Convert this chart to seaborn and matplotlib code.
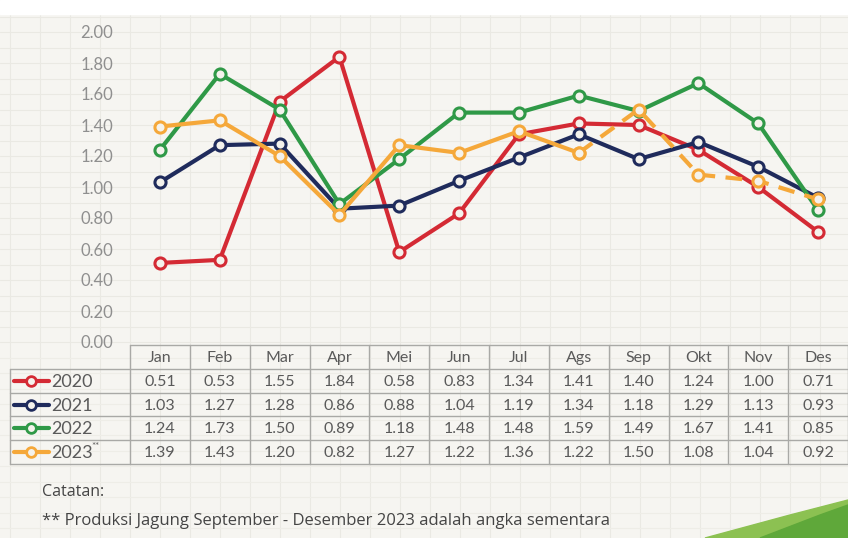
import matplotlib
matplotlib.use("Agg")
import matplotlib.pyplot as plt
import seaborn as sns
import pandas as pd
import numpy as np
from matplotlib.patches import Polygon, Rectangle

months = ["Jan", "Feb", "Mar", "Apr", "Mei", "Jun", "Jul", "Ags", "Sep", "Okt", "Nov", "Des"]
v2020 = [0.51, 0.53, 1.55, 1.84, 0.58, 0.83, 1.34, 1.41, 1.40, 1.24, 1.00, 0.71]
v2021 = [1.03, 1.27, 1.28, 0.86, 0.88, 1.04, 1.19, 1.34, 1.18, 1.29, 1.13, 0.93]
v2022 = [1.24, 1.73, 1.50, 0.89, 1.18, 1.48, 1.48, 1.59, 1.49, 1.67, 1.41, 0.85]
v2023 = [1.39, 1.43, 1.20, 0.82, 1.27, 1.22, 1.36, 1.22, 1.50, 1.08, 1.04, 0.92]
years = ["2020", "2021", "2022", "2023"]
year_labels = ["2020", "2021", "2022", "2023**"]
series = [v2020, v2021, v2022, v2023]
colors = ["#d42a34", "#1f2b5c", "#2f9947", "#f5a83a"]
provisional_from = "Ags"  # 2023 dashed from Ags->Sep onwards
y_ticks = [0.0, 0.2, 0.4, 0.6, 0.8, 1.0, 1.2, 1.4, 1.6, 1.8, 2.0]

sns.set_theme(style="white")
plt.rcParams["font.family"] = ["Lato", "DejaVu Sans"]

W, H = 848, 538
fig = plt.figure(figsize=(W / 100, H / 100), dpi=100)
BG = "#f6f5f1"
fig.patch.set_facecolor(BG)

# background graph-paper grid in pixel coordinates
bg = fig.add_axes([0, 0, 1, 1], zorder=-10)
bg.set_xlim(0, W)
bg.set_ylim(H, 0)
bg.axis("off")
bg.add_patch(Rectangle((0, 0), W, 14, color="white", zorder=1))
for x in np.arange(130, W, 30):
    bg.plot([x, x], [14, H], color="#eae9e3", lw=0.8, zorder=0)
for x in np.arange(130 - 30, 0, -30):
    bg.plot([x, x], [14, H], color="#eae9e3", lw=0.8, zorder=0)
for y in np.arange(342, 14, -15.5):
    bg.plot([0, W], [y, y], color="#eae9e3", lw=0.8, zorder=0)
for y in np.arange(342 + 15.5, H, 15.5):
    bg.plot([0, W], [y, y], color="#eeede7", lw=0.8, zorder=0)
# decorative green swoosh bottom-right
bg.add_patch(Polygon([[705, H], [790, 515], [W, 500], [W, H]], closed=True,
                     color="#8cc152", zorder=2))
bg.add_patch(Polygon([[760, H], [820, 515], [W, 505], [W, H]], closed=True,
                     color="#5fa83a", zorder=2))

# main line chart
left = 130 / W
ax = fig.add_axes([left, 1 - 342 / H, 1 - left, (342 - 32) / H])
ax.set_facecolor("none")
ax.patch.set_alpha(0)

for yr, vals, col in zip(years, series, colors):
    df = pd.DataFrame({"x": np.arange(len(months)), "month": months, "value": vals})
    mk = dict(marker="o", markersize=8, markeredgewidth=2.2, markeredgecolor=col,
              markerfacecolor="#f4f2ec", linewidth=3, color=col, clip_on=False)
    if yr == "2023":
        k = months.index(provisional_from)
        sns.lineplot(data=df.iloc[:k + 1], x="x", y="value", ax=ax, **mk)
        sns.lineplot(data=df.iloc[k:], x="x", y="value", ax=ax, linestyle=(0, (4, 2.5)), **mk)
    else:
        sns.lineplot(data=df, x="x", y="value", ax=ax, **mk)

ax.set_xlim(-0.5, len(months) - 0.5)
ax.set_ylim(0, 2.0)
ax.set_yticks(y_ticks)
ax.set_yticklabels([f"{t:.2f}" for t in y_ticks], color="#8f8f8f", fontsize=12)
ax.set_xticks([])
ax.set_xlabel("")
ax.set_ylabel("")
ax.tick_params(axis="y", length=0, pad=12)
for s in ax.spines.values():
    s.set_visible(False)

# data table aligned with chart columns
tax = fig.add_axes([left, 1 - 464 / H, 1 - left, (464 - 345) / H])
tax.set_xlim(-0.5, len(months) - 0.5)
tax.set_ylim(5, 0)
tax.axis("off")
LC = "#a9a9a6"
TXT = "#5a5a5a"
n = len(months)
# horizontal lines
tax.plot([-0.5, n - 0.5], [0, 0], color=LC, lw=1, clip_on=False)
for r in range(1, 6):
    tax.plot([-2.5, n - 0.5], [r, r], color=LC, lw=1, clip_on=False)
# vertical lines
for c in range(n + 1):
    tax.plot([c - 0.5, c - 0.5], [0, 5], color=LC, lw=1, clip_on=False)
tax.plot([-2.5, -2.5], [1, 5], color=LC, lw=1, clip_on=False)

for i, m in enumerate(months):
    tax.text(i, 0.55, m, ha="center", va="center", fontsize=11.5, color=TXT)
for r, (lab, vals, col) in enumerate(zip(year_labels, series, colors)):
    yy = r + 1.55
    for i, v in enumerate(vals):
        tax.text(i, yy, f"{v:.2f}", ha="center", va="center", fontsize=11.5, color=TXT)
    tax.plot([-2.44, -1.86], [yy - 0.05, yy - 0.05], color=col, lw=3, clip_on=False)
    tax.plot([-2.15], [yy - 0.05], marker="o", markersize=7, markeredgewidth=2,
             markeredgecolor=col, markerfacecolor="#f4f2ec", clip_on=False)
    if lab.endswith("**"):
        tax.text(-1.82, yy, lab[:-2], ha="left", va="center", fontsize=13, color=TXT)
        tax.text(-1.15, yy - 0.28, "**", ha="left", va="center", fontsize=7, color=TXT)
    else:
        tax.text(-1.82, yy, lab, ha="left", va="center", fontsize=13, color=TXT)

# notes
note_font = ["Open Sans", "DejaVu Sans"]
fig.text(42 / W, 1 - 492 / H, "Catatan:", fontsize=11.5, color="#444444",
         family=note_font, va="center")
fig.text(42 / W, 1 - 521 / H,
         "** Produksi Jagung September - Desember 2023 adalah angka sementara",
         fontsize=12, color="#444444", family=note_font, va="center")

fig.savefig("out.png", dpi=100, facecolor=BG)
